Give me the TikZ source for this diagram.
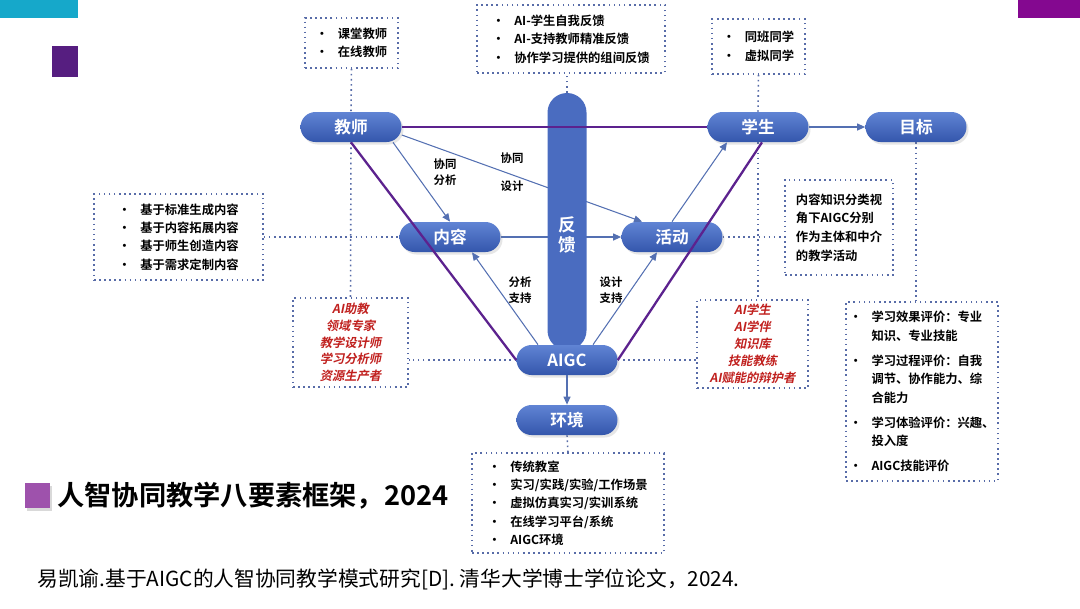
\documentclass[tikz,border=0pt]{standalone}
\usepackage{fontspec}
\setmainfont{Noto Sans CJK SC}[BoldFont=* Bold]
\newfontfamily\slfont{Noto Sans CJK SC Bold}[FakeSlant=0.2]
\usetikzlibrary{arrows.meta,shapes.misc,shadows,backgrounds}
\definecolor{pilltop}{RGB}{96,132,212}
\definecolor{pillbot}{RGB}{52,86,172}
\definecolor{pillc}{RGB}{74,108,192}
\definecolor{dotc}{RGB}{88,108,168}
\definecolor{arrc}{RGB}{84,112,178}
\definecolor{tiec}{RGB}{92,34,142}
\definecolor{redtxt}{RGB}{192,32,30}
\definecolor{ttlc}{RGB}{158,82,172}
\definecolor{cyanc}{RGB}{22,168,202}
\definecolor{plum}{RGB}{86,30,128}
\definecolor{magc}{RGB}{132,8,144}
\newcommand{\bul}{\makebox[4.4mm][l]{•}}
\newcommand{\ind}{\hspace*{4.4mm}}
\tikzset{
  >={Triangle[length=1.6mm,width=1.4mm]},
  pill/.style={rounded rectangle,top color=pilltop,bottom color=pillbot,text=white,
    minimum width=20.2mm,minimum height=6mm,inner sep=0pt,
    font=\bfseries\fontsize{9.5}{11}\selectfont,
    drop shadow={opacity=0.2,shadow xshift=0.4mm,shadow yshift=-0.5mm}},
  dbox/.style={draw=dotc,dotted,line width=0.9pt,align=left,inner sep=0pt,
    font=\bfseries\fontsize{7}{10.6}\selectfont},
  redbox/.style={dbox,align=center,text=redtxt,font=\slfont\fontsize{7}{9.6}\selectfont},
  link/.style={draw=dotc,dotted,line width=0.9pt},
  flow/.style={->,draw=arrc,line width=0.6pt},
  tie/.style={draw=tiec,line width=1.3pt},
  tag/.style={font=\bfseries\fontsize{6.5}{9}\selectfont,align=center},
}
\begin{document}
\begin{tikzpicture}[x=0.2mm,y=-0.2mm]
  \useasboundingbox (0,0) rectangle (1080,608);
  % slide decoration
  \fill[cyanc] (0,0) rectangle (78,18);
  \fill[plum] (52,46) rectangle (78,77);
  \fill[magc] (1018,0) rectangle (1080,18);

  % text boxes
  \node[dbox,minimum width=18.6mm,minimum height=10mm] (tbx) at (351.5,43) {\bul 课堂教师\\\bul 在线教师};
  \node[dbox,minimum width=37.6mm,minimum height=13.6mm] (fbx) at (571,39) {\bul AI-学生自我反馈\\\bul AI-支持教师精准反馈\\\bul 协作学习提供的组间反馈};
  \node[dbox,minimum width=18.6mm,minimum height=11mm] (sbx) at (758.5,46.5) {\bul 同班同学\\\bul 虚拟同学};
  \node[dbox,minimum width=33.8mm,minimum height=17.2mm,font=\bfseries\fontsize{7}{10.4}\selectfont] (lbx) at (178.5,237) {\bul 基于标准生成内容\\\bul 基于内容拓展内容\\\bul 基于师生创造内容\\\bul 基于需求定制内容};
  \node[redbox,minimum width=23mm,minimum height=17.8mm] (rl) at (350.5,342.5) {AI助教\\领域专家\\教学设计师\\学习分析师\\资源生产者};
  \node[dbox,minimum width=21.6mm,minimum height=19mm] (nbx) at (839,227.5) {内容知识分类视\\角下AIGC分别\\作为主体和中介\\的教学活动};
  \node[redbox,minimum width=22.2mm,minimum height=17.6mm] (rr) at (752.5,344) {AI学生\\AI学伴\\知识库\\技能教练\\AI赋能的辩护者};
  \node[dbox,minimum width=30.4mm,minimum height=35.8mm] (ebx) at (922,391.5) {\bul 学习效果评价：专业\\\ind 知识、专业技能\\[1.2mm]\bul 学习过程评价：自我\\\ind 调节、协作能力、综\\\ind 合能力\\[1.2mm]\bul 学习体验评价：兴趣、\\\ind 投入度\\[1.2mm]\bul AIGC技能评价};
  \node[dbox,minimum width=38.4mm,minimum height=20mm,font=\bfseries\fontsize{7}{10.4}\selectfont] (hbx) at (568,503) {\bul 传统教室\\\bul 实习/实践/实验/工作场景\\\bul 虚拟仿真实习/实训系统\\\bul 在线学习平台/系统\\\bul AIGC环境};

  % elements
  \node[pill] (js) at (351,127) {教师};
  \node[pill] (xs) at (758,127) {学生};
  \node[pill] (mb) at (916,127) {目标};
  \node[pill] (nr) at (450,237) {内容};
  \node[pill] (hd) at (672,237) {活动};
  \node[rectangle,rounded corners=3.9mm,fill=pillc,minimum width=7.8mm,minimum height=51.4mm,inner sep=0pt] (fk) at (567,221.5) {};
  \node[font=\bfseries\fontsize{10}{11.5}\selectfont,text=white,align=center] (fkt) at (567,235) {反\\馈};
  \node[pill] (ai) at (567,360) {AIGC};
  \node[pill] (hj) at (567,420) {环境};

  \begin{pgfonlayer}{background}
    \draw[link] (tbx.south) -- (js.north);
    \draw[link] (js.south) -- (rl.north);
    \draw[link] (fk.north) -- (fk.north |- fbx.south);
    \draw[link] (sbx.south) -- (xs.north);
    \draw[link] (xs.south) -- (xs.south |- rr.north);
    \draw[link] (mb.south) -- (mb.south |- ebx.north);
    \draw[link] (lbx.east) -- (nr.west);
    \draw[link] (hd.east) -- (hd.east -| nbx.west);
    \draw[link] (ai.west) -- (ai.west -| rl.east);
    \draw[link] (ai.east) -- (ai.east -| rr.west);
    \draw[link] (hj.south) -- (hbx.north);
    \draw[flow] (nr.east) -- (hd.west);
    \draw[flow] ([yshift=-1.6mm]js.east) -- ([xshift=-6mm]hd.north);
  \end{pgfonlayer}

  \draw[tie] (js.east) -- (xs.west);
  \draw[tie] (js.south) -- (ai.west);
  \draw[tie] ([xshift=0.8mm]xs.south) -- (ai.east);

  \draw[flow] ([xshift=8.4mm]js.south) -- (nr.north);
  \draw[flow] ([xshift=-5.8mm]ai.north) -- ([xshift=4.4mm]nr.south);
  \draw[flow] ([xshift=5.2mm]ai.north) -- ([xshift=-3mm]hd.south);
  \draw[flow] (hd.north) -- ([xshift=-6.2mm]xs.south);
  \draw[flow] (xs.east) -- (mb.west);
  \draw[flow] (ai.south) -- (hj.north);

  \node[tag] (t1) at (445,172) {协同\\分析};
  \node[tag] (t2) at (512,158) {协同};
  \node[tag] (t3) at (512,186) {设计};
  \node[tag] (t4) at (520,290) {分析\\支持};
  \node[tag] (t5) at (611,290) {设计\\支持};

  % caption
  \fill[ttlc,drop shadow={opacity=0.3,shadow xshift=0.4mm,shadow yshift=-0.5mm}] (25,483) rectangle (50,508);
  \node[anchor=west,font=\bfseries\fontsize{15.5}{18}\selectfont,inner sep=0pt] (ttl) at (57,496) {人智协同教学八要素框架，2024};
  \node[anchor=west,font=\fontsize{11.8}{14}\selectfont,inner sep=0pt] (ref) at (37,579) {易凯谕.基于AIGC的人智协同教学模式研究[D]. 清华大学博士学位论文，2024.};
\end{tikzpicture}
\end{document}
